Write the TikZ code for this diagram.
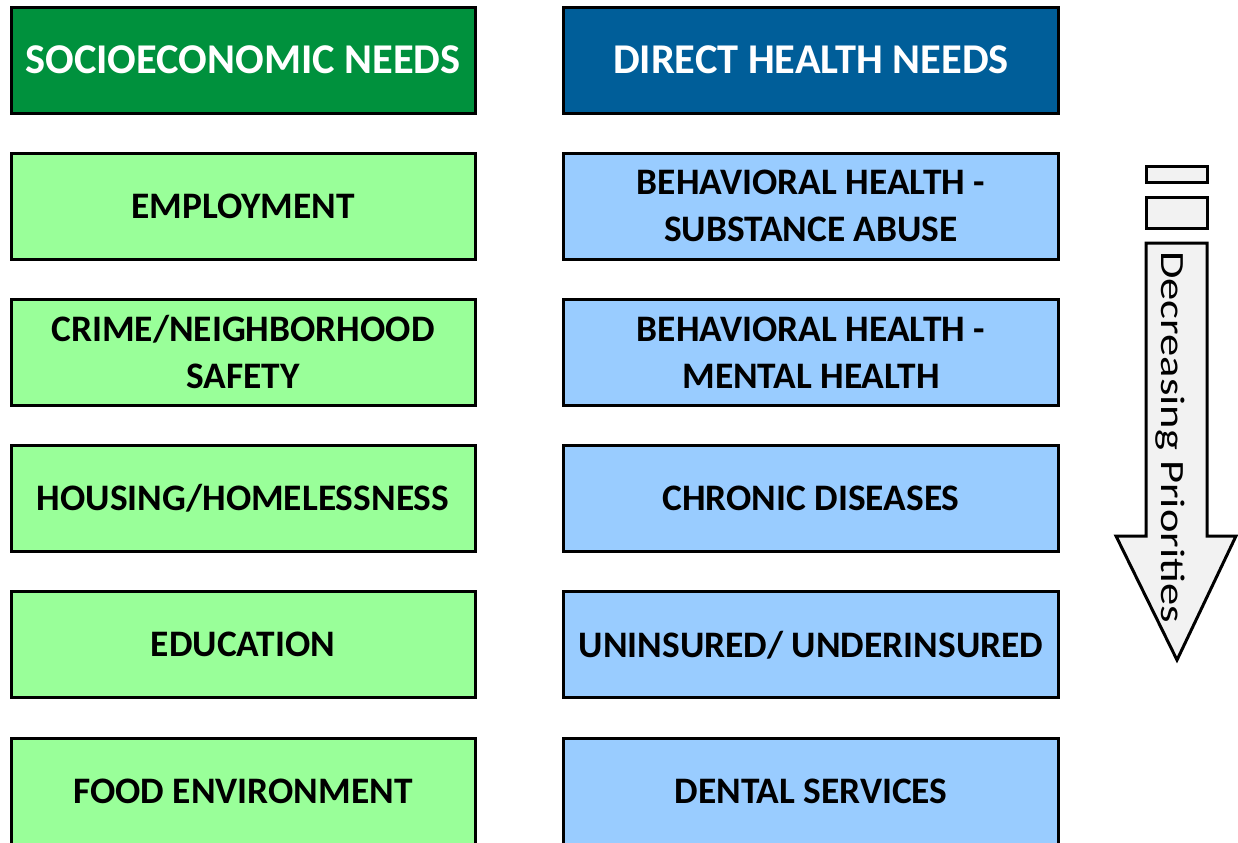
\documentclass[tikz,border=0pt]{standalone}
\usepackage{fontspec}
\setmainfont{Carlito}
\definecolor{socgreen}{HTML}{00913D}
\definecolor{hlthblue}{HTML}{005E99}
\definecolor{socfill}{HTML}{99FF99}
\definecolor{hlthfill}{HTML}{99CCFF}
\definecolor{arrowfill}{HTML}{F2F2F2}

\begin{document}
\begin{tikzpicture}[x=0.5pt,y=-0.5pt,
  box/.style={draw=black,line width=1.5pt,align=center,inner sep=0pt,
    minimum height=53pt,font=\fontsize{18.7}{23.5}\selectfont\bfseries},
  socbox/.style={box,minimum width=232pt,fill=socfill},
  hlthbox/.style={box,minimum width=247.5pt,fill=hlthfill},
  headtext/.style={text=white,font=\fontsize{21.2}{25}\selectfont\bfseries}]
\useasboundingbox (0,0) rectangle (1238,842);
\clip (0,0) rectangle (1238,842);
% headers
\node[socbox,fill=socgreen,headtext] (soc-head) at (243,60) {SOCIOECONOMIC NEEDS};
\node[hlthbox,fill=hlthblue,headtext] (hlth-head) at (811,60) {DIRECT HEALTH NEEDS};
% socioeconomic needs
\node[socbox] (soc1) at (243,206.2) {EMPLOYMENT};
\node[socbox] (soc2) at (243,352.4) {CRIME/NEIGHBORHOOD\\SAFETY};
\node[socbox] (soc3) at (243,498.6) {HOUSING/HOMELESSNESS};
\node[socbox] (soc4) at (243,644.8) {EDUCATION};
\node[socbox] (soc5) at (243,791.2) {FOOD ENVIRONMENT};
% direct health needs
\node[hlthbox] (hlth1) at (811,206.2) {BEHAVIORAL HEALTH -\\SUBSTANCE ABUSE};
\node[hlthbox] (hlth2) at (811,352.4) {BEHAVIORAL HEALTH -\\MENTAL HEALTH};
\node[hlthbox] (hlth3) at (811,498.6) {CHRONIC DISEASES};
\node[hlthbox] (hlth4) at (811,644.8) {UNINSURED/ UNDERINSURED};
\node[hlthbox] (hlth5) at (811,791.2) {DENTAL SERVICES};
% priority arrow
\draw[line width=1.5pt,fill=arrowfill] (1146,166) rectangle (1207,182);
\draw[line width=1.5pt,fill=arrowfill] (1146,197) rectangle (1207,228);
\draw[line width=1.5pt,fill=arrowfill] (1146,243) -- (1207,243) -- (1207,536)
  -- (1236,536) -- (1177,660) -- (1116,536) -- (1146,536) -- cycle;
\node[rotate=-90,inner sep=0pt,font=\fontsize{17}{20}\selectfont] (prio) at (1170,437)
  {\scalebox{1.31}[1]{Decreasing Priorities}};
\end{tikzpicture}
\end{document}
